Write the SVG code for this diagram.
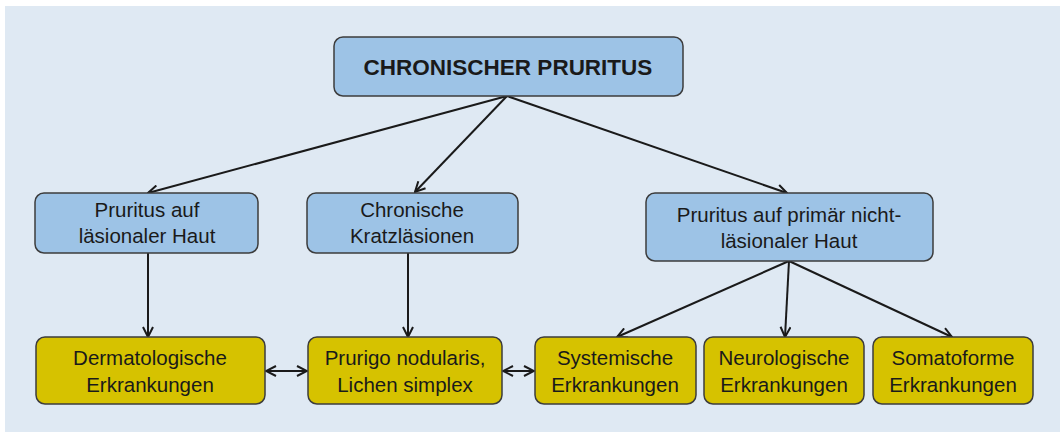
<svg xmlns="http://www.w3.org/2000/svg" width="1060" height="432" viewBox="0 0 1060 432">
  <defs>
    <marker id="arr" viewBox="0 0 12 12" markerWidth="12" markerHeight="12" refX="11" refY="6" orient="auto-start-reverse" markerUnits="userSpaceOnUse">
      <path d="M1,1 L11,6 L1,11" fill="none" stroke="#1a1a1a" stroke-width="2" stroke-linejoin="miter"/>
    </marker>
    <style>
      .blue { fill: #9dc3e6; stroke: #3c3c3c; stroke-width: 1.5; }
      .yel { fill: #d6c200; stroke: #3c3c3c; stroke-width: 1.5; }
      .t { font-family: "Liberation Sans", Arial, sans-serif; font-size: 20.5px; fill: #1a1a1a; text-anchor: middle; }
      .title { font-family: "Liberation Sans", Arial, sans-serif; font-size: 22.5px; font-weight: bold; fill: #1a1a1a; text-anchor: middle; }
      .c { stroke: #1a1a1a; stroke-width: 2; fill: none; }
    </style>
  </defs>
  <rect x="0" y="0" width="1060" height="432" fill="#ffffff"/>
  <rect x="5" y="6" width="1055" height="426" fill="#dfe9f3"/>

  <g id="connectors">
    <line class="c" x1="507" y1="96" x2="148" y2="193" marker-end="url(#arr)"/>
    <line class="c" x1="507" y1="96" x2="415" y2="192" marker-end="url(#arr)"/>
    <line class="c" x1="507" y1="96" x2="787" y2="193" marker-end="url(#arr)"/>
    <line class="c" x1="148" y1="253" x2="148" y2="337" marker-end="url(#arr)"/>
    <line class="c" x1="408" y1="253" x2="408" y2="337" marker-end="url(#arr)"/>
    <line class="c" x1="789" y1="261" x2="617" y2="337" marker-end="url(#arr)"/>
    <line class="c" x1="789" y1="261" x2="785" y2="337" marker-end="url(#arr)"/>
    <line class="c" x1="789" y1="261" x2="952" y2="337" marker-end="url(#arr)"/>
    <line class="c" x1="266" y1="371" x2="307" y2="371" marker-start="url(#arr)" marker-end="url(#arr)"/>
    <line class="c" x1="503" y1="371" x2="534" y2="371" marker-start="url(#arr)" marker-end="url(#arr)"/>
  </g>

  <g id="chronischer-pruritus">
    <rect class="blue" x="334" y="37" width="349" height="59" rx="9"/>
    <text class="title" x="508" y="75">CHRONISCHER PRURITUS</text>
  </g>
  <g id="laesionale-haut">
    <rect class="blue" x="35" y="193" width="223" height="60" rx="9"/>
    <text class="t" x="147" y="217">Pruritus auf</text>
    <text class="t" x="147" y="243">läsionaler Haut</text>
  </g>
  <g id="kratzlaesionen">
    <rect class="blue" x="307" y="193" width="211" height="60" rx="9"/>
    <text class="t" x="412" y="217">Chronische</text>
    <text class="t" x="412" y="243">Kratzläsionen</text>
  </g>
  <g id="nicht-laesionale-haut">
    <rect class="blue" x="646" y="193" width="287" height="68" rx="9"/>
    <text class="t" x="789" y="222">Pruritus auf primär nicht-</text>
    <text class="t" x="789" y="248">läsionaler Haut</text>
  </g>
  <g id="dermatologische">
    <rect class="yel" x="36" y="337" width="229" height="67" rx="9"/>
    <text class="t" x="150" y="365">Dermatologische</text>
    <text class="t" x="150" y="392">Erkrankungen</text>
  </g>
  <g id="prurigo">
    <rect class="yel" x="308" y="337" width="194" height="67" rx="9"/>
    <text class="t" x="405" y="365">Prurigo nodularis,</text>
    <text class="t" x="405" y="392">Lichen simplex</text>
  </g>
  <g id="systemische">
    <rect class="yel" x="535" y="337" width="161" height="67" rx="9"/>
    <text class="t" x="615" y="365">Systemische</text>
    <text class="t" x="615" y="392">Erkrankungen</text>
  </g>
  <g id="neurologische">
    <rect class="yel" x="704" y="337" width="160" height="67" rx="9"/>
    <text class="t" x="784" y="365">Neurologische</text>
    <text class="t" x="784" y="392">Erkrankungen</text>
  </g>
  <g id="somatoforme">
    <rect class="yel" x="873" y="337" width="160" height="67" rx="9"/>
    <text class="t" x="953" y="365">Somatoforme</text>
    <text class="t" x="953" y="392">Erkrankungen</text>
  </g>
</svg>
